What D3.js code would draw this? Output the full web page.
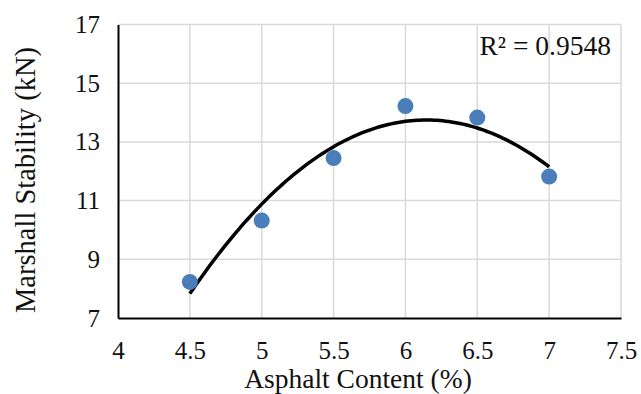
<!DOCTYPE html>
<html>
<head>
<meta charset="utf-8">
<script src="https://cdn.jsdelivr.net/npm/d3@7"></script>
<style>
  html, body { margin: 0; padding: 0; background: #fff; }
  svg { display: block; }
</style>
</head>
<body>
<div id="chart"></div>
<script>
// data
const asphaltContent = [4.5, 5, 5.5, 6, 6.5, 7];
const stability = [8.23, 10.32, 12.45, 14.22, 13.83, 11.82];
const xTicks = [4, 4.5, 5, 5.5, 6, 6.5, 7, 7.5];
const yTicks = [7, 9, 11, 13, 15, 17];
const r2Label = 'R\u00B2 = 0.9548';

const width = 641, height = 394;
const margin = { top: 24.5, right: 20, bottom: 76, left: 118 };
const font = '"Liberation Serif", "Times New Roman", serif';

const svg = d3.select('#chart').append('svg')
  .attr('width', width)
  .attr('height', height);

const x = d3.scaleLinear().domain([4, 7.5]).range([margin.left, width - margin.right]);
const y = d3.scaleLinear().domain([7, 17]).range([height - margin.bottom, margin.top]);

// gridlines
const grid = svg.append('g').attr('class', 'grid')
  .attr('stroke', '#d9d9d9').attr('stroke-width', 1.5);
grid.selectAll('line.v').data(xTicks.slice(1)).enter().append('line')
  .attr('x1', d => x(d)).attr('x2', d => x(d))
  .attr('y1', y(7)).attr('y2', y(17));
grid.selectAll('line.h').data(yTicks.slice(1)).enter().append('line')
  .attr('x1', x(4)).attr('x2', x(7.5))
  .attr('y1', d => y(d)).attr('y2', d => y(d));

// axes
const xAxis = svg.append('g')
  .attr('transform', `translate(0,${y(7)})`)
  .call(d3.axisBottom(x).tickValues(xTicks).tickSize(0).tickPadding(23).tickFormat(d3.format('')));
const yAxis = svg.append('g')
  .attr('transform', `translate(${x(4)},0)`)
  .call(d3.axisLeft(y).tickValues(yTicks).tickSize(0).tickPadding(18).tickFormat(d3.format('')));
[xAxis, yAxis].forEach(a => {
  a.select('.domain').attr('stroke', '#000').attr('stroke-width', 2);
  a.selectAll('text').attr('font-family', font).attr('font-size', 25).attr('fill', '#111');
});

// polynomial (order 2) trendline, least squares fit
function polyFit(xs, ys) {
  const n = xs.length;
  let s = [0, 0, 0, 0, 0], t = [0, 0, 0];
  for (let i = 0; i < n; i++) {
    for (let k = 0; k < 5; k++) s[k] += Math.pow(xs[i], k);
    for (let k = 0; k < 3; k++) t[k] += ys[i] * Math.pow(xs[i], k);
  }
  const M = [[s[0], s[1], s[2], t[0]], [s[1], s[2], s[3], t[1]], [s[2], s[3], s[4], t[2]]];
  for (let i = 0; i < 3; i++) {
    for (let j = i + 1; j < 3; j++) {
      const f = M[j][i] / M[i][i];
      for (let k = i; k < 4; k++) M[j][k] -= f * M[i][k];
    }
  }
  const c = [0, 0, 0];
  for (let i = 2; i >= 0; i--) {
    let v = M[i][3];
    for (let k = i + 1; k < 3; k++) v -= M[i][k] * c[k];
    c[i] = v / M[i][i];
  }
  return c;
}
const coef = polyFit(asphaltContent, stability);
const trendX = d3.range(4.5, 7.0001, 0.02);
const trend = trendX.map(v => [v, coef[0] + coef[1] * v + coef[2] * v * v]);

svg.append('path')
  .datum(trend)
  .attr('fill', 'none')
  .attr('stroke', '#000')
  .attr('stroke-width', 3.5)
  .attr('d', d3.line().x(d => x(d[0])).y(d => y(d[1])).curve(d3.curveMonotoneX));

// points
svg.append('g').selectAll('circle')
  .data(asphaltContent.map((v, i) => [v, stability[i]]))
  .enter().append('circle')
  .attr('cx', d => x(d[0]))
  .attr('cy', d => y(d[1]))
  .attr('r', 8)
  .attr('fill', '#4a7ebb');

// R squared label
svg.append('text')
  .attr('x', 611).attr('y', 55)
  .attr('text-anchor', 'end')
  .attr('font-family', font).attr('font-size', 27.5).attr('fill', '#111')
  .text(r2Label);

// axis titles
svg.append('text')
  .attr('x', 358).attr('y', 388)
  .attr('text-anchor', 'middle')
  .attr('font-family', font).attr('font-size', 27.5).attr('fill', '#111')
  .text('Asphalt Content (%)');
svg.append('text')
  .attr('transform', `translate(35,180) rotate(-90)`)
  .attr('text-anchor', 'middle')
  .attr('font-family', font).attr('font-size', 28.5).attr('fill', '#111')
  .text('Marshall Stability (kN)');
</script>
</body>
</html>
